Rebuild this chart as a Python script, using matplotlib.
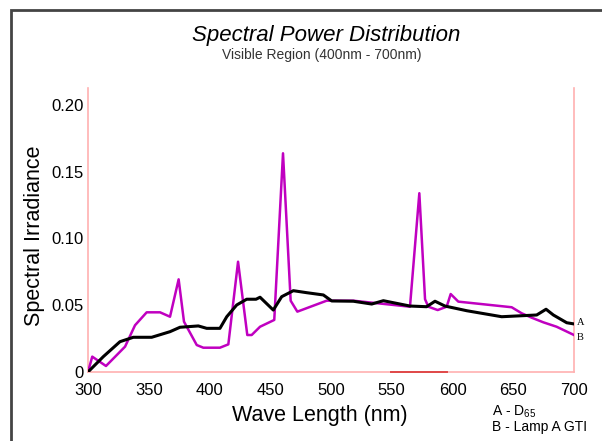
import matplotlib
matplotlib.use("Agg")
import matplotlib.pyplot as plt
from matplotlib.patches import Rectangle

plt.rcParams['font.family'] = ['Liberation Sans', 'DejaVu Sans']
plt.rcParams['mathtext.fontset'] = 'custom'
plt.rcParams['mathtext.rm'] = 'Liberation Sans'
plt.rcParams['mathtext.it'] = 'Liberation Sans:italic'

# ---- data ----
wl_a = [300, 312.6, 326.3, 337.3, 352.4, 367.5, 375.7, 390.8, 397.7, 408.6,
        414.2, 422.4, 430.6, 438.3, 441.6, 452.5, 459.4, 469, 480, 493.7,
        500.6, 518.4, 533.5, 543.1, 565, 578.7, 585.6, 593.8, 611.7, 640.5,
        669.3, 677, 683, 694, 700]
irr_a = [0.0, 0.0115, 0.0227, 0.026, 0.026, 0.0302, 0.0335, 0.0345, 0.0327, 0.0327,
         0.0414, 0.0502, 0.0545, 0.0545, 0.056, 0.0464, 0.0564, 0.0609, 0.0594, 0.0577,
         0.0532, 0.053, 0.0509, 0.0534, 0.0494, 0.0489, 0.053, 0.0494, 0.0459, 0.0414,
         0.0427, 0.047, 0.0427, 0.0369, 0.036]

wl_b = [300, 303.5, 314.8, 330.5, 338.7, 348.3, 359.3, 367.5, 374.6, 379,
        389.5, 394.9, 408.6, 415.5, 423.5, 431.1, 434.7, 441.6, 453.3, 460.5,
        466.8, 472.3, 496.4, 518.4, 565, 572.7, 577.4, 580.1, 587.8, 595.2,
        598.5, 604.8, 648.7, 656.9, 665.1, 674.8, 685.7, 700]
irr_b = [0.0, 0.0115, 0.0045, 0.019, 0.035, 0.0447, 0.0447, 0.0414, 0.0694, 0.0377,
         0.0202, 0.0182, 0.0182, 0.0207, 0.0826, 0.0277, 0.0277, 0.0339, 0.039, 0.1638,
         0.0534, 0.0452, 0.0534, 0.0534, 0.0489, 0.1339, 0.0545, 0.0489, 0.0464, 0.0489,
         0.0584, 0.0527, 0.0485, 0.044, 0.0407, 0.0372, 0.0339, 0.0277]

x_ticks = [300, 350, 400, 450, 500, 550, 600, 650, 700]
y_ticks = [0, 0.05, 0.10, 0.15, 0.20]
y_tick_labels = ['0', '0.05', '0.10', '0.15', '0.20']

title = 'Spectral Power Distribution'
subtitle = 'Visible Region (400nm - 700nm)'

W, H = 602, 441
fig = plt.figure(figsize=(W / 100, H / 100), dpi=100)
ax = fig.add_axes([88 / W, 1 - 372 / H, (574 - 88) / W, (372 - 88) / H])

pink = '#ffb0b0'
ax.plot(wl_b, irr_b, color='#c000c0', lw=1.8, zorder=3)
ax.plot(wl_a, irr_a, color='black', lw=2.2, zorder=4)

ax.set_xlim(300, 700)
ax.set_ylim(0, 0.2127)
ax.set_xticks(x_ticks)
ax.set_xticklabels([str(v) for v in x_ticks])
ax.set_yticks(y_ticks)
ax.set_yticklabels(y_tick_labels)
ax.tick_params(axis='both', length=0, labelsize=12, colors='black')
ax.tick_params(axis='x', pad=8)
ax.tick_params(axis='y', pad=3)
ax.spines['top'].set_visible(False)
for s in ('left', 'right', 'bottom'):
    ax.spines[s].set_color(pink)
    ax.spines[s].set_linewidth(1.2)
# darker red stretch of the base line
ax.axhline(0, xmin=0.623, xmax=0.739, color='#e04848', lw=1.4, zorder=2.8,
           clip_on=False)

# end labels
ax.text(702, irr_a[-1] + 0.0012, 'A', family='Liberation Serif', fontsize=7.5,
        va='center', ha='left', clip_on=False)
ax.text(702, irr_b[-1] - 0.0015, 'B', family='Liberation Serif', fontsize=7.5,
        va='center', ha='left', clip_on=False)

fig.text(326 / W, 1 - 35 / H, title, fontsize=16, style='italic',
         ha='center', va='center')
fig.text(322 / W, 1 - 55 / H, subtitle, fontsize=10, ha='center', va='center',
         color='#333333')
fig.text(35 / W, 1 - 236 / H, 'Spectral Irradiance', fontsize=15.5,
         rotation=90, ha='center', va='center')
fig.text(320 / W, 1 - 415 / H, 'Wave Length (nm)', fontsize=15.5,
         ha='center', va='center')
fig.text(492 / W, 1 - 412 / H, r'A - D$_{\mathrm{65}}$', fontsize=10,
         ha='left', va='center')
fig.text(492 / W, 1 - 427 / H, 'B - Lamp A GTI', fontsize=10,
         ha='left', va='center')

# outer frame (left and top edges visible; the rest runs off the picture)
fig.patches.append(Rectangle((11 / W, -0.1), 1.2, 1 - 10 / H + 0.1,
                             transform=fig.transFigure, fill=False,
                             edgecolor='#444444', lw=2.0))

fig.savefig('out.png', dpi=100)
